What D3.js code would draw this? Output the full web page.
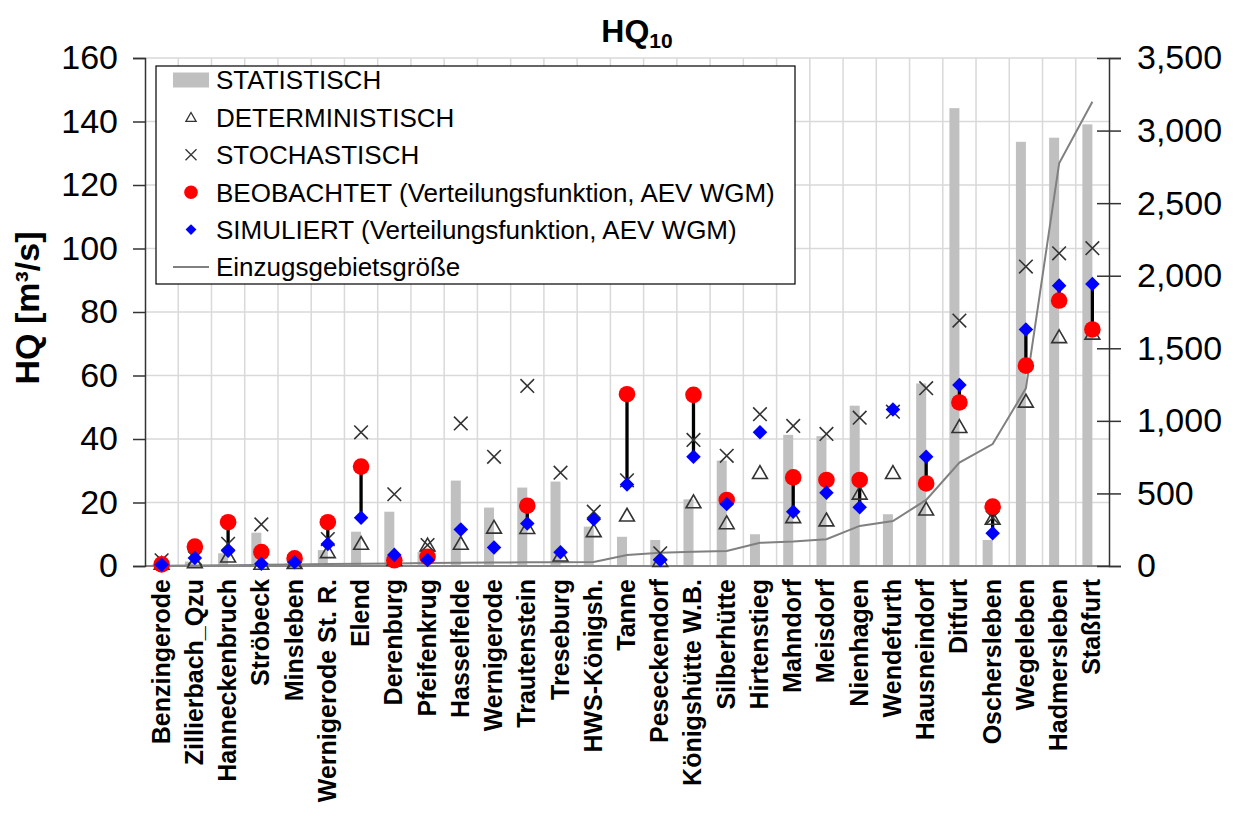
<!DOCTYPE html>
<html><head><meta charset="utf-8">
<script src="https://cdn.jsdelivr.net/npm/d3@7/dist/d3.min.js"></script>
<style>
body{margin:0;background:#fff;}
text{font-family:"Liberation Sans",Arial,sans-serif;}
</style></head>
<body><svg id="c" width="1245" height="828"></svg>
<script>
const categories = ["Benzingerode","Zillierbach_Qzu","Hanneckenbruch","Ströbeck","Minsleben","Wernigerode St. R.","Elend","Derenburg","Pfeifenkrug","Hasselfelde","Wernigerode","Trautenstein","Treseburg","HWS-Königsh.","Tanne","Peseckendorf","Königshütte W.B.","Silberhütte","Hirtenstieg","Mahndorf","Meisdorf","Nienhagen","Wendefurth","Hausneindorf","Ditfurt","Oschersleben","Wegeleben","Hadmersleben","Staßfurt"];
const statistisch = [0.5,1.4,4.0,10.5,0.8,5.0,10.8,17.1,4.5,26.9,18.4,24.7,26.6,12.4,9.2,8.2,21.0,33.2,10.0,41.3,40.9,50.5,16.3,57.5,144.2,8.2,133.6,134.9,139.1];
const deterministisch = [0.3,0.8,2.6,0.3,0.6,4.0,6.6,1.5,6.1,6.6,11.7,11.6,2.9,10.6,15.5,1.2,19.7,13.1,28.9,15.0,14.0,22.4,28.9,17.4,43.4,14.5,51.4,71.7,72.8];
const stochastisch = [1.8,2.5,7.0,13.1,1.5,8.5,42.1,22.6,6.6,44.9,34.4,56.7,29.4,17.1,27.0,4.0,39.7,34.7,47.8,44.1,41.6,46.7,48.6,56.0,77.3,15.2,94.3,98.5,100.1];
const beobachtet = [0.5,6.1,13.8,4.4,2.4,13.8,31.3,1.8,2.9,null,null,19.0,null,null,54.1,null,53.9,20.8,null,27.9,27.1,27.1,null,26.0,51.5,18.7,63.1,83.6,74.5];
const simuliert = [0.4,2.5,4.8,0.7,1.2,6.9,15.2,3.5,1.9,11.5,5.8,13.4,4.3,14.7,25.7,1.9,34.4,19.5,42.1,17.1,23.1,18.5,49.3,34.4,57.0,10.3,74.5,88.3,88.8];
const einzugsgebiet = [2,4,6,8,10,13,15,18,20,22,24,25,26,28,76,92,99,104,160,168,184,276,310,455,712,840,1224,2775,3199];
const leftTicks = [0,20,40,60,80,100,120,140,160];
const rightTicks = [0,500,1000,1500,2000,2500,3000,3500];
const legendLabels = ["STATISTISCH","DETERMINISTISCH","STOCHASTISCH","BEOBACHTET (Verteilungsfunktion, AEV WGM)","SIMULIERT (Verteilungsfunktion, AEV WGM)","Einzugsgebietsgröße"];

const svg = d3.select("#c");
const L=145, R=1109, T=58, B=566;
const x = d3.scaleBand().domain(categories).range([L,R]);
const y = d3.scaleLinear().domain([0,160]).range([B,T]);
const y2 = d3.scaleLinear().domain([0,3500]).range([B,T]);
const cx = c => x(c) + x.bandwidth()/2;

// gridlines
const grid = svg.append("g");
grid.selectAll("line.h").data(leftTicks.slice(1)).join("line")
  .attr("x1",L).attr("x2",R).attr("y1",d=>y(d)).attr("y2",d=>y(d))
  .attr("stroke","#d9d9d9").attr("stroke-width",1.5);
grid.selectAll("line.v").data(categories.slice(1)).join("line")
  .attr("x1",d=>x(d)).attr("x2",d=>x(d)).attr("y1",T).attr("y2",B)
  .attr("stroke","#d9d9d9").attr("stroke-width",1.5);

// bars
svg.append("g").selectAll("rect").data(categories).join("rect")
  .attr("x",(d,i)=>cx(d)-10).attr("width",10)
  .attr("y",(d,i)=>y(statistisch[i])).attr("height",(d,i)=>B-y(statistisch[i]))
  .attr("fill","#c0c0c0");

// catchment line
svg.append("path").datum(categories)
  .attr("d", d3.line().x(d=>cx(d)).y((d,i)=>y2(einzugsgebiet[i])))
  .attr("fill","none").attr("stroke","#808080").attr("stroke-width",2);

// bottom axis line
svg.append("line").attr("x1",L).attr("x2",R).attr("y1",B).attr("y2",B)
  .attr("stroke","#868686").attr("stroke-width",2);

// axes
const ax = svg.append("g").attr("transform",`translate(${L},0)`)
  .call(d3.axisLeft(y).tickValues(leftTicks).tickSize(12).tickPadding(15));
const ax2 = svg.append("g").attr("transform",`translate(${R},0)`)
  .call(d3.axisRight(y2).tickValues(rightTicks).tickFormat(d3.format(",")).tickSize(12).tickPadding(16));
ax2.selectAll(".tick line").attr("x1",-12).attr("x2",12);
[ax,ax2].forEach(a=>{
  a.select(".domain").attr("stroke","#333").attr("stroke-width",1.5);
  a.selectAll(".tick line").attr("stroke","#333").attr("stroke-width",1.5);
  a.selectAll(".tick text").attr("font-size",34).attr("fill","#000")
   .attr("font-family",'"Liberation Sans",Arial,sans-serif');
});

// connecting lines
const pairs = categories.map((c,i)=>({c,o:beobachtet[i],s:simuliert[i]})).filter(d=>d.o!=null && d.s!=null);
svg.append("g").selectAll("line").data(pairs).join("line")
  .attr("x1",d=>cx(d.c)).attr("x2",d=>cx(d.c)).attr("y1",d=>y(d.o)).attr("y2",d=>y(d.s))
  .attr("stroke","#000").attr("stroke-width",3.3);

// triangles
const tri = d3.symbol().type(d3.symbolTriangle).size(95);
svg.append("g").selectAll("path").data(categories).join("path")
  .attr("d",tri()).attr("transform",(d,i)=>`translate(${cx(d)},${y(deterministisch[i])})`)
  .attr("fill","none").attr("stroke","#333").attr("stroke-width",1.6);
// crosses
const xs = 6.8;
const cg = svg.append("g").selectAll("g").data(categories).join("g")
  .attr("transform",(d,i)=>`translate(${cx(d)},${y(stochastisch[i])})`);
cg.append("path").attr("d",`M${-xs},${-xs}L${xs},${xs}M${-xs},${xs}L${xs},${-xs}`)
  .attr("stroke","#333").attr("stroke-width",1.6);
// observed
svg.append("g").selectAll("circle").data(categories.map((c,i)=>({c,v:beobachtet[i]})).filter(d=>d.v!=null)).join("circle")
  .attr("cx",d=>cx(d.c)).attr("cy",d=>y(d.v)).attr("r",8.3).attr("fill","#ff0000");
// simulated
const dia = d3.symbol().type(d3.symbolDiamond2).size(135);
svg.append("g").selectAll("path").data(categories).join("path")
  .attr("d",dia()).attr("transform",(d,i)=>`translate(${cx(d)},${y(simuliert[i])})`)
  .attr("fill","#0000ff");

// x labels
svg.append("g").selectAll("text").data(categories).join("text")
  .attr("transform",d=>`translate(${cx(d)},579) rotate(-90)`)
  .attr("text-anchor","end").attr("dy","0.32em")
  .attr("font-size",25).attr("font-weight","bold").text(d=>d);

// y title
svg.append("text").attr("transform","translate(27,308) rotate(-90)")
  .attr("text-anchor","middle").attr("dy","0.35em")
  .attr("font-size",34).attr("font-weight","bold").text("HQ [m³/s]");

// title
const t = svg.append("text").attr("x",637).attr("y",42).attr("text-anchor","middle")
  .attr("font-weight","bold").attr("font-size",32);
t.append("tspan").text("HQ");
t.append("tspan").attr("font-size",21).attr("dy",6).text("10");

// legend
const lg = svg.append("g");
lg.append("rect").attr("x",156).attr("y",66).attr("width",639).attr("height",218)
  .attr("fill","#fff").attr("stroke","#000").attr("stroke-width",1.2);
const ly = i => 80 + i*37.4;
lg.append("rect").attr("x",173).attr("y",ly(0)-7.5).attr("width",36).attr("height",15).attr("fill","#c0c0c0");
lg.append("path").attr("d",d3.symbol().type(d3.symbolTriangle).size(45)()).attr("transform",`translate(191,${ly(1)+1})`)
  .attr("fill","none").attr("stroke","#333").attr("stroke-width",1.3);
lg.append("path").attr("d","M-5.5,-5.5L5.5,5.5M-5.5,5.5L5.5,-5.5").attr("transform",`translate(191,${ly(2)})`)
  .attr("stroke","#333").attr("stroke-width",1.3);
lg.append("circle").attr("cx",191).attr("cy",ly(3)).attr("r",6.8).attr("fill","#ff0000");
lg.append("path").attr("d",d3.symbol().type(d3.symbolDiamond2).size(75)()).attr("transform",`translate(191,${ly(4)})`).attr("fill","#0000ff");
lg.append("line").attr("x1",173).attr("x2",209).attr("y1",ly(5)).attr("y2",ly(5)).attr("stroke","#808080").attr("stroke-width",2);
lg.selectAll("text").data(legendLabels).join("text")
  .attr("x",216).attr("y",(d,i)=>ly(i)).attr("dy","0.36em").attr("font-size",26).text(d=>d);
</script></body></html>
